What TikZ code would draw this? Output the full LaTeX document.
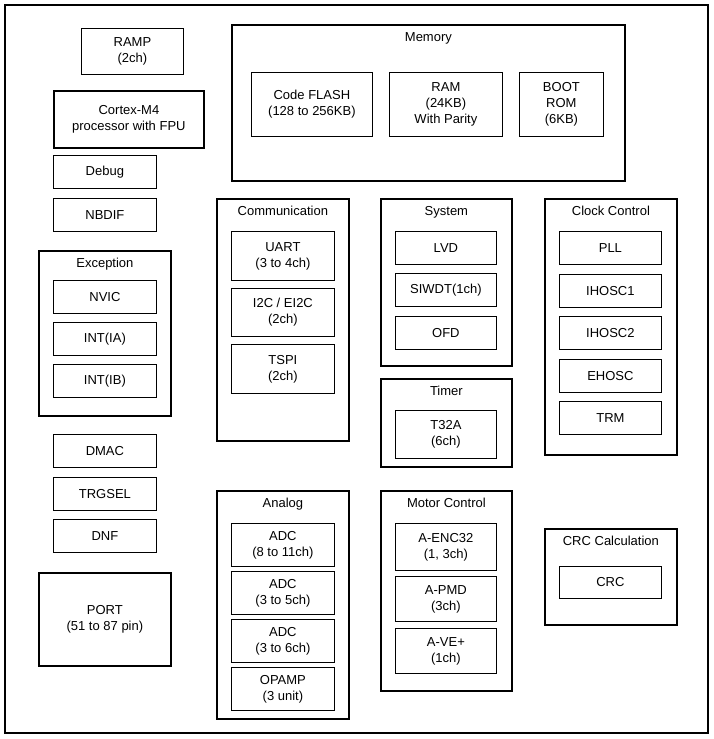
\documentclass[tikz,border=0pt]{standalone}
\usepackage{fontspec}
\setmainfont{Liberation Sans}
\usetikzlibrary{positioning}
\tikzset{
  blk/.style={draw,line width=0.8pt,align=center,inner sep=0pt,anchor=north west,font=\fontsize{13}{16}\selectfont},
  grp/.style={blk,line width=1.8pt},
  ttl/.style={font=\fontsize{13}{16}\selectfont,below=5pt,anchor=north}
}
% box from (x1,y1) to (x2,y2): name, x1, y1, x2, y2, text
\newcommand\blk[7][blk]{\node[#1,minimum width=#5pt-#3pt,minimum height=#6pt-#4pt] (#2) at (#3,#4) {#7};}
\newcommand\grp[6]{\blk[grp]{#1}{#2}{#3}{#4}{#5}{}\node[ttl] at (#1.north) {#6};}
\begin{document}
\begin{tikzpicture}[x=1pt,y=-1pt]
\useasboundingbox (0,0) rectangle (714,739);
\draw[line width=1.2pt] (5,5) rectangle (708,733);
\blk{ramp}{81}{28}{183}{74}{RAMP\\(2ch)}
\blk[grp]{cpu}{53}{90}{203}{147}{Cortex-M4\\processor with FPU}
\blk{debug}{53}{155}{156}{188}{Debug}
\blk{nbdif}{53}{198}{156}{231}{NBDIF}
\grp{exc}{38}{250}{170}{415}{Exception}
\blk{nvic}{53}{280}{156}{313}{NVIC}
\blk{inta}{53}{322}{156}{355}{INT(IA)}
\blk{intb}{53}{364}{156}{397}{INT(IB)}
\blk{dmac}{53}{434}{156}{467}{DMAC}
\blk{trgsel}{53}{477}{156}{510}{TRGSEL}
\blk{dnf}{53}{519}{156}{552}{DNF}
\blk[grp]{port}{38}{572}{170}{665}{PORT\\(51 to 87 pin)}
% memory
\grp{mem}{231}{24}{624}{180}{Memory}
\blk{flash}{251}{72}{372}{136}{Code FLASH\\(128 to 256KB)}
\blk{ram}{389}{72}{502}{136}{RAM\\(24KB)\\With Parity}
\blk{boot}{519}{72}{603}{136}{BOOT\\ROM\\(6KB)}
% communication
\grp{comm}{216}{198}{348}{440}{Communication}
\blk{uart}{231}{231}{334}{280}{UART\\(3 to 4ch)}
\blk{iic}{231}{288}{334}{336}{I2C / EI2C\\(2ch)}
\blk{tspi}{231}{344}{334}{393}{TSPI\\(2ch)}
% system
\grp{sys}{380}{198}{511}{365}{System}
\blk{lvd}{395}{231}{496}{264}{LVD}
\blk{siwdt}{395}{273}{496}{306}{SIWDT(1ch)}
\blk{ofd}{395}{316}{496}{349}{OFD}
% timer
\grp{tmr}{380}{378}{511}{466}{Timer}
\blk{tta}{395}{410}{496}{458}{T32A\\(6ch)}
% clock
\grp{clk}{544}{198}{676}{454}{Clock Control}
\blk{pll}{559}{231}{661}{264}{PLL}
\blk{ihosca}{559}{274}{661}{307}{IHOSC1}
\blk{ihoscb}{559}{316}{661}{349}{IHOSC2}
\blk{ehosc}{559}{359}{661}{392}{EHOSC}
\blk{trm}{559}{401}{661}{434}{TRM}
% analog
\grp{ana}{216}{490}{348}{718}{Analog}
\blk{adca}{231}{523}{334}{566}{ADC\\(8 to 11ch)}
\blk{adcb}{231}{571}{334}{614}{ADC\\(3 to 5ch)}
\blk{adcc}{231}{619}{334}{662}{ADC\\(3 to 6ch)}
\blk{opamp}{231}{667}{334}{710}{OPAMP\\(3 unit)}
% motor
\grp{mot}{380}{490}{511}{690}{Motor Control}
\blk{enc}{395}{523}{496}{570}{A-ENC32\\(1, 3ch)}
\blk{pmd}{395}{576}{496}{621}{A-PMD\\(3ch)}
\blk{ve}{395}{628}{496}{673}{A-VE+\\(1ch)}
% crc
\grp{crcg}{544}{528}{676}{624}{CRC Calculation}
\blk{crc}{559}{566}{661}{598}{CRC}
\end{tikzpicture}
\end{document}
